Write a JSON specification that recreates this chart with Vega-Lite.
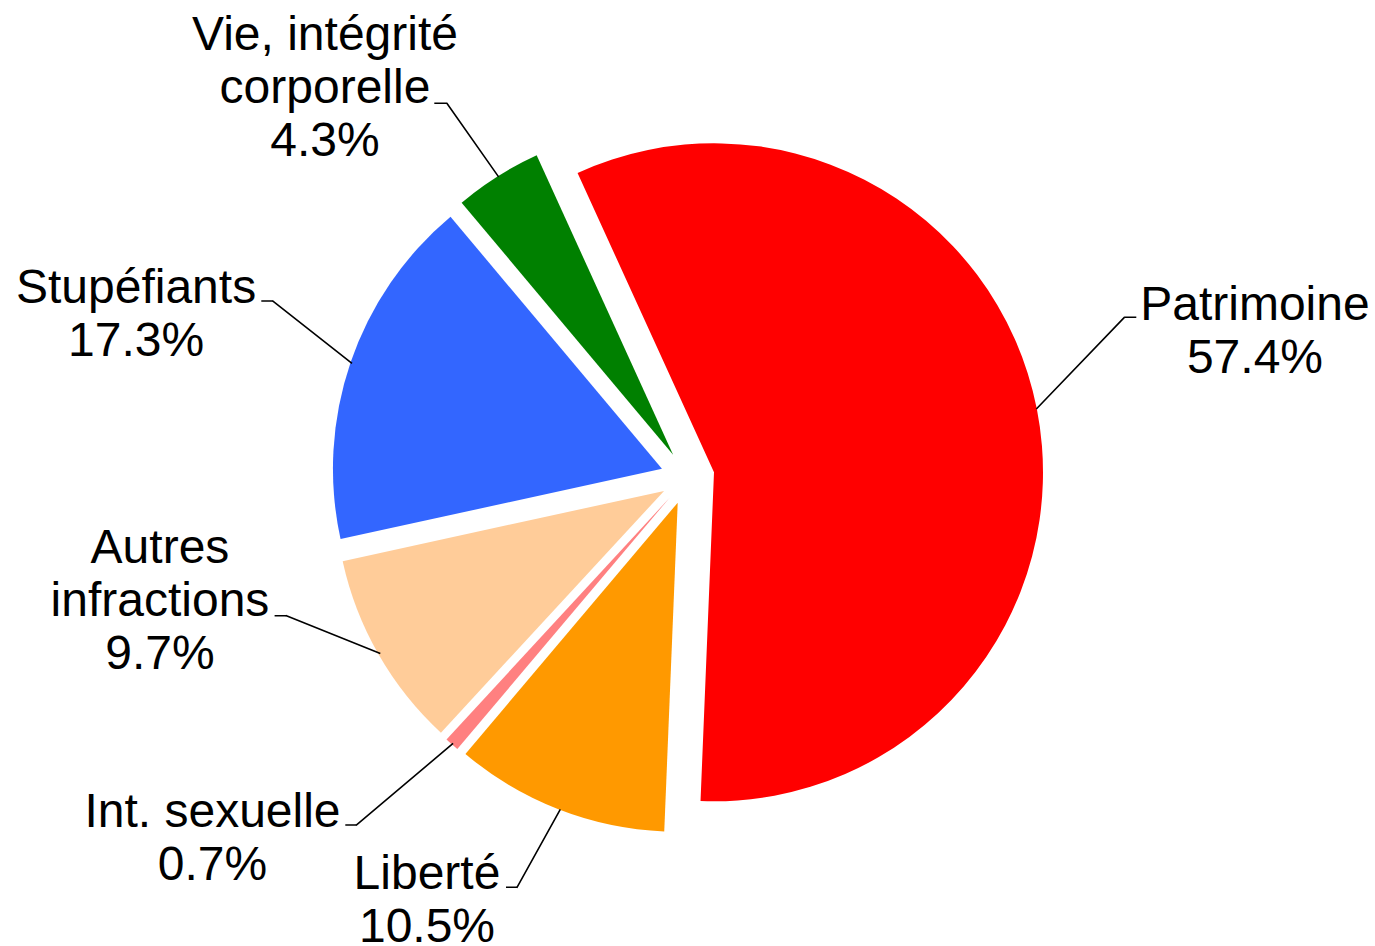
{
  "$schema": "https://vega.github.io/schema/vega-lite/v6.json",
  "width": 1375,
  "height": 937,
  "autosize": {"type": "none"},
  "padding": {"left": 0, "right": 0, "top": 9, "bottom": 0},
  "background": "#ffffff",
  "view": {"stroke": null},
  "data": {
    "values": [
      {"cat": "Patrimoine", "value": 57.4, "order": 1, "label": "Patrimoine\n57.4%"},
      {"cat": "Liberté", "value": 10.5, "order": 2, "label": "Liberté\n10.5%"},
      {"cat": "Int. sexuelle", "value": 0.7, "order": 3, "label": "Int. sexuelle\n0.7%"},
      {"cat": "Autres infractions", "value": 9.7, "order": 4, "label": "Autres\ninfractions\n9.7%"},
      {"cat": "Stupéfiants", "value": 17.3, "order": 5, "label": "Stupéfiants\n17.3%"},
      {"cat": "Vie, intégrité corporelle", "value": 4.3, "order": 6, "label": "Vie, intégrité\ncorporelle\n4.3%"}
    ]
  },
  "transform": [
    {"stack": "value", "groupby": [], "sort": [{"field": "order", "order": "ascending"}], "as": ["v0", "v1"]}
  ],
  "layer": [
    {"transform": [{"filter": "datum.cat === 'Patrimoine'"}],
     "mark": {"type": "arc", "color": "#FF0000", "outerRadius": 329, "xOffset": 26.5, "yOffset": -5.19},
     "encoding": {"theta": {"field": "v0", "type": "quantitative", "stack": null, "scale": {"domain": [0, 99.9], "range": [-0.42761, 5.85558], "nice": false, "zero": false}}, "theta2": {"field": "v1"}}},
    {"transform": [{"filter": "datum.cat === 'Liberté'"}],
     "mark": {"type": "arc", "color": "#FF9900", "outerRadius": 329, "xOffset": -9.79, "yOffset": 25.16},
     "encoding": {"theta": {"field": "v0", "type": "quantitative", "stack": null, "scale": {"domain": [0, 99.9], "range": [-0.42761, 5.85558], "nice": false, "zero": false}}, "theta2": {"field": "v1"}}},
    {"transform": [{"filter": "datum.cat === 'Int. sexuelle'"}],
     "mark": {"type": "arc", "color": "#FF8080", "outerRadius": 329, "xOffset": -17.87, "yOffset": 20.24},
     "encoding": {"theta": {"field": "v0", "type": "quantitative", "stack": null, "scale": {"domain": [0, 99.9], "range": [-0.42761, 5.85558], "nice": false, "zero": false}}, "theta2": {"field": "v1"}}},
    {"transform": [{"filter": "datum.cat === 'Autres infractions'"}],
     "mark": {"type": "arc", "color": "#FFCC99", "outerRadius": 329, "xOffset": -23.43, "yOffset": 13.42},
     "encoding": {"theta": {"field": "v0", "type": "quantitative", "stack": null, "scale": {"domain": [0, 99.9], "range": [-0.42761, 5.85558], "nice": false, "zero": false}}, "theta2": {"field": "v1"}}},
    {"transform": [{"filter": "datum.cat === 'Stupéfiants'"}],
     "mark": {"type": "arc", "color": "#3366FF", "outerRadius": 329, "xOffset": -25.55, "yOffset": -8.72},
     "encoding": {"theta": {"field": "v0", "type": "quantitative", "stack": null, "scale": {"domain": [0, 99.9], "range": [-0.42761, 5.85558], "nice": false, "zero": false}}, "theta2": {"field": "v1"}}},
    {"transform": [{"filter": "datum.cat === 'Vie, intégrité corporelle'"}],
     "mark": {"type": "arc", "color": "#008000", "outerRadius": 329, "xOffset": -14.41, "yOffset": -22.83},
     "encoding": {"theta": {"field": "v0", "type": "quantitative", "stack": null, "scale": {"domain": [0, 99.9], "range": [-0.42761, 5.85558], "nice": false, "zero": false}}, "theta2": {"field": "v1"}}},

    {"transform": [{"filter": "datum.cat === 'Patrimoine'"}],
     "mark": {"type": "arc", "filled": false, "color": "#000000", "strokeWidth": 1.6, "innerRadius": 290.9, "outerRadius": 418.4, "thetaOffset": 1.1924, "theta2Offset": 1.1924, "xOffset": 147.41, "yOffset": 141.46},
     "encoding": {"theta": {"field": "v0", "type": "quantitative", "stack": null, "scale": {"domain": [0, 99.9], "range": [-0.42761, 5.85558], "nice": false, "zero": false}}, "theta2": {"field": "v0"}}},
    {"transform": [{"filter": "datum.cat === 'Liberté'"}],
     "mark": {"type": "arc", "filled": false, "color": "#000000", "strokeWidth": 1.6, "innerRadius": 351.9, "outerRadius": 441.6, "thetaOffset": 0.4659, "theta2Offset": 0.4659, "xOffset": 43.62, "yOffset": 24.22},
     "encoding": {"theta": {"field": "v0", "type": "quantitative", "stack": null, "scale": {"domain": [0, 99.9], "range": [-0.42761, 5.85558], "nice": false, "zero": false}}, "theta2": {"field": "v0"}}},
    {"transform": [{"filter": "datum.cat === 'Int. sexuelle'"}],
     "mark": {"type": "arc", "filled": false, "color": "#000000", "strokeWidth": 1.6, "innerRadius": 350.7, "outerRadius": 477.8, "thetaOffset": 0.1678, "theta2Offset": 0.1678, "xOffset": 33.43, "yOffset": 39.53},
     "encoding": {"theta": {"field": "v0", "type": "quantitative", "stack": null, "scale": {"domain": [0, 99.9], "range": [-0.42761, 5.85558], "nice": false, "zero": false}}, "theta2": {"field": "v0"}}},
    {"transform": [{"filter": "datum.cat === 'Autres infractions'"}],
     "mark": {"type": "arc", "filled": false, "color": "#000000", "strokeWidth": 1.6, "innerRadius": 219.9, "outerRadius": 321.7, "thetaOffset": 1.2060, "theta2Offset": 1.2060, "xOffset": -103.02, "yOffset": 257.57},
     "encoding": {"theta": {"field": "v0", "type": "quantitative", "stack": null, "scale": {"domain": [0, 99.9], "range": [-0.42761, 5.85558], "nice": false, "zero": false}}, "theta2": {"field": "v0"}}},
    {"transform": [{"filter": "datum.cat === 'Stupéfiants'"}],
     "mark": {"type": "arc", "filled": false, "color": "#000000", "strokeWidth": 1.6, "innerRadius": 334.1, "outerRadius": 435.2, "thetaOffset": 0.8831, "theta2Offset": 0.8831, "xOffset": -73.18, "yOffset": 92.76},
     "encoding": {"theta": {"field": "v0", "type": "quantitative", "stack": null, "scale": {"domain": [0, 99.9], "range": [-0.42761, 5.85558], "nice": false, "zero": false}}, "theta2": {"field": "v0"}}},
    {"transform": [{"filter": "datum.cat === 'Vie, intégrité corporelle'"}],
     "mark": {"type": "arc", "filled": false, "color": "#000000", "strokeWidth": 1.6, "innerRadius": 354.6, "outerRadius": 444.9, "thetaOffset": 0.0853, "theta2Offset": 0.0853, "xOffset": 15.05, "yOffset": -10.57},
     "encoding": {"theta": {"field": "v0", "type": "quantitative", "stack": null, "scale": {"domain": [0, 99.9], "range": [-0.42761, 5.85558], "nice": false, "zero": false}}, "theta2": {"field": "v0"}}},

    {"transform": [{"filter": "datum.cat === 'Patrimoine'"}],
     "mark": {"type": "arc", "filled": false, "color": "#000000", "strokeWidth": 1.6, "innerRadius": 436.8, "outerRadius": 448.8, "thetaOffset": 1.9984, "theta2Offset": 1.9984, "xOffset": 0, "yOffset": -160.2},
     "encoding": {"theta": {"field": "v0", "type": "quantitative", "stack": null, "scale": {"domain": [0, 99.9], "range": [-0.42761, 5.85558], "nice": false, "zero": false}}, "theta2": {"field": "v0"}}},
    {"transform": [{"filter": "datum.cat === 'Liberté'"}],
     "mark": {"type": "arc", "filled": false, "color": "#000000", "strokeWidth": 1.6, "innerRadius": 170.5, "outerRadius": 181.5, "thetaOffset": 1.52984, "theta2Offset": 1.52984, "xOffset": 0, "yOffset": 409.8},
     "encoding": {"theta": {"field": "v0", "type": "quantitative", "stack": null, "scale": {"domain": [0, 99.9], "range": [-0.42761, 5.85558], "nice": false, "zero": false}}, "theta2": {"field": "v0"}}},
    {"transform": [{"filter": "datum.cat === 'Int. sexuelle'"}],
     "mark": {"type": "arc", "filled": false, "color": "#000000", "strokeWidth": 1.6, "innerRadius": 331.2, "outerRadius": 342.2, "thetaOffset": 0.86943, "theta2Offset": 0.86943, "xOffset": 0, "yOffset": 347.5},
     "encoding": {"theta": {"field": "v0", "type": "quantitative", "stack": null, "scale": {"domain": [0, 99.9], "range": [-0.42761, 5.85558], "nice": false, "zero": false}}, "theta2": {"field": "v0"}}},
    {"transform": [{"filter": "datum.cat === 'Autres infractions'"}],
     "mark": {"type": "arc", "filled": false, "color": "#000000", "strokeWidth": 1.6, "innerRadius": 401.2, "outerRadius": 412.9, "thetaOffset": 0.82542, "theta2Offset": 0.82542, "xOffset": 0, "yOffset": 138.2},
     "encoding": {"theta": {"field": "v0", "type": "quantitative", "stack": null, "scale": {"domain": [0, 99.9], "range": [-0.42761, 5.85558], "nice": false, "zero": false}}, "theta2": {"field": "v0"}}},
    {"transform": [{"filter": "datum.cat === 'Stupéfiants'"}],
     "mark": {"type": "arc", "filled": false, "color": "#000000", "strokeWidth": 1.6, "innerRadius": 414.5, "outerRadius": 426.2, "thetaOffset": 0.21534, "theta2Offset": 0.21534, "xOffset": 0, "yOffset": -176.5},
     "encoding": {"theta": {"field": "v0", "type": "quantitative", "stack": null, "scale": {"domain": [0, 99.9], "range": [-0.42761, 5.85558], "nice": false, "zero": false}}, "theta2": {"field": "v0"}}},
    {"transform": [{"filter": "datum.cat === 'Vie, intégrité corporelle'"}],
     "mark": {"type": "arc", "filled": false, "color": "#000000", "strokeWidth": 1.6, "innerRadius": 240.5, "outerRadius": 253.2, "thetaOffset": -0.87275, "theta2Offset": -0.87275, "xOffset": 0, "yOffset": -374.2},
     "encoding": {"theta": {"field": "v0", "type": "quantitative", "stack": null, "scale": {"domain": [0, 99.9], "range": [-0.42761, 5.85558], "nice": false, "zero": false}}, "theta2": {"field": "v0"}}},

    {"transform": [{"filter": "datum.cat === 'Patrimoine'"}],
     "mark": {"type": "text", "font": "Liberation Sans", "fontSize": 48, "lineHeight": 53, "lineBreak": "\n", "align": "center", "baseline": "top", "color": "#000000", "radius": 600.2, "thetaOffset": 1.6666},
     "encoding": {"theta": {"field": "v0", "type": "quantitative", "stack": null, "scale": {"domain": [0, 99.9], "range": [-0.42761, 5.85558], "nice": false, "zero": false}}, "text": {"field": "label"}}},
    {"transform": [{"filter": "datum.cat === 'Liberté'"}],
     "mark": {"type": "text", "font": "Liberation Sans", "fontSize": 48, "lineHeight": 53, "lineBreak": "\n", "align": "center", "baseline": "top", "color": "#000000", "radius": 455.1, "thetaOffset": 0.5685},
     "encoding": {"theta": {"field": "v0", "type": "quantitative", "stack": null, "scale": {"domain": [0, 99.9], "range": [-0.42761, 5.85558], "nice": false, "zero": false}}, "text": {"field": "label"}}},
    {"transform": [{"filter": "datum.cat === 'Int. sexuelle'"}],
     "mark": {"type": "text", "font": "Liberation Sans", "fontSize": 48, "lineHeight": 53, "lineBreak": "\n", "align": "center", "baseline": "top", "color": "#000000", "radius": 568.2, "thetaOffset": 0.2886},
     "encoding": {"theta": {"field": "v0", "type": "quantitative", "stack": null, "scale": {"domain": [0, 99.9], "range": [-0.42761, 5.85558], "nice": false, "zero": false}}, "text": {"field": "label"}}},
    {"transform": [{"filter": "datum.cat === 'Autres infractions'"}],
     "mark": {"type": "text", "font": "Liberation Sans", "fontSize": 48, "lineHeight": 53, "lineBreak": "\n", "align": "center", "baseline": "top", "color": "#000000", "radius": 529.7, "thetaOffset": 0.7350},
     "encoding": {"theta": {"field": "v0", "type": "quantitative", "stack": null, "scale": {"domain": [0, 99.9], "range": [-0.42761, 5.85558], "nice": false, "zero": false}}, "text": {"field": "label"}}},
    {"transform": [{"filter": "datum.cat === 'Stupéfiants'"}],
     "mark": {"type": "text", "font": "Liberation Sans", "fontSize": 48, "lineHeight": 53, "lineBreak": "\n", "align": "center", "baseline": "top", "color": "#000000", "radius": 590.9, "thetaOffset": 0.5828},
     "encoding": {"theta": {"field": "v0", "type": "quantitative", "stack": null, "scale": {"domain": [0, 99.9], "range": [-0.42761, 5.85558], "nice": false, "zero": false}}, "text": {"field": "label"}}},
    {"transform": [{"filter": "datum.cat === 'Vie, intégrité corporelle'"}],
     "mark": {"type": "text", "font": "Liberation Sans", "fontSize": 48, "lineHeight": 53, "lineBreak": "\n", "align": "center", "baseline": "top", "color": "#000000", "radius": 590.0, "thetaOffset": 0.0364},
     "encoding": {"theta": {"field": "v0", "type": "quantitative", "stack": null, "scale": {"domain": [0, 99.9], "range": [-0.42761, 5.85558], "nice": false, "zero": false}}, "text": {"field": "label"}}}
  ]
}
